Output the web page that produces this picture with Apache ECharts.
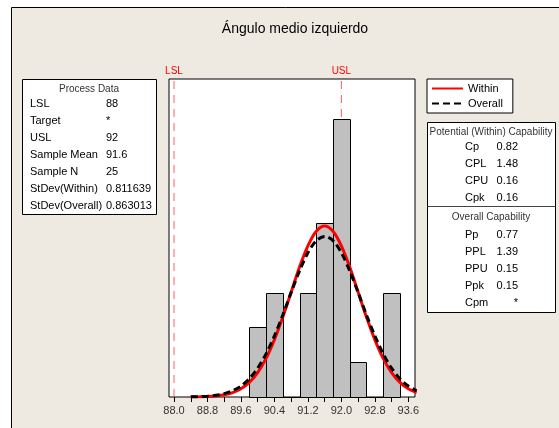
<!DOCTYPE html>
<html><head><meta charset="utf-8">
<script src="https://cdn.jsdelivr.net/npm/echarts@6/dist/echarts.min.js"></script>
<style>html,body{margin:0;padding:0;background:#fff}#c{width:559px;height:428px}</style>
</head><body><div id="c"></div>
<script>
const chartTitle = 'Ángulo medio izquierdo';
const binStarts = [89.8, 90.2, 90.6, 91.0, 91.4, 91.8, 92.2, 92.6, 93.0];
const binWidth = 0.4;
const counts = [2, 3, 0, 3, 5, 8, 1, 0, 3];
const curveX = [88.4, 88.6, 88.8, 89.0, 89.2, 89.4, 89.6, 89.8, 90.0, 90.2, 90.4, 90.6, 90.8, 91.0, 91.2, 91.4, 91.6, 91.8, 92.0, 92.2, 92.4, 92.6, 92.8, 93.0, 93.2, 93.4, 93.6, 93.8];
const withinCurve = [0.002, 0.005, 0.013, 0.029, 0.062, 0.125, 0.236, 0.42, 0.70, 1.11, 1.65, 2.30, 3.02, 3.74, 4.35, 4.77, 4.92, 4.77, 4.35, 3.74, 3.02, 2.30, 1.65, 1.11, 0.70, 0.42, 0.236, 0.125];
const overallCurve = [0.005, 0.011, 0.024, 0.049, 0.097, 0.179, 0.315, 0.525, 0.83, 1.24, 1.76, 2.36, 3.01, 3.63, 4.15, 4.50, 4.62, 4.50, 4.15, 3.63, 3.01, 2.36, 1.76, 1.24, 0.83, 0.525, 0.315, 0.179];
const specNames = ['LSL', 'USL'];
const specValues = [88, 92];
const tickLabelValues = [88.0, 88.8, 89.6, 90.4, 91.2, 92.0, 92.8, 93.6];
const tickMarkValues = [88.0, 88.4, 88.8, 89.2, 89.6, 90.0, 90.4, 90.8, 91.2, 91.6, 92.0, 92.4, 92.8, 93.2, 93.6];
const processLabels = ['LSL', 'Target', 'USL', 'Sample Mean', 'Sample N', 'StDev(Within)', 'StDev(Overall)'];
const processValues = ['88', '*', '92', '91.6', '25', '0.811639', '0.863013'];
const withinLabels = ['Cp', 'CPL', 'CPU', 'Cpk'];
const withinValues = ['0.82', '1.48', '0.16', '0.16'];
const overallLabels = ['Pp', 'PPL', 'PPU', 'Ppk', 'Cpm'];
const overallValues = ['0.77', '1.39', '0.15', '0.15', '*'];

const FF = '"Liberation Sans", Arial, sans-serif';
const Y_MAX = 9.15;
const chart = echarts.init(document.getElementById('c'));

const G = [];
G.push({type:'rect', shape:{x:11.5, y:7.5, width:600, height:500}, style:{fill:'#EEEAE1', stroke:'#000', lineWidth:1}, z:-10});
G.push({type:'rect', shape:{x:22.5, y:79.5, width:134, height:135}, style:{fill:'#fff', stroke:'#000', lineWidth:1}, z:1});
G.push({type:'text', x:89, y:89, style:{text:'Process Data', font:'10px '+FF, fill:'#333', align:'center', verticalAlign:'middle'}, z:2});
processLabels.forEach((l,i)=>{
  G.push({type:'text', x:30, y:104+i*17, style:{text:l, font:'11px '+FF, fill:'#000', verticalAlign:'middle'}, z:2});
  G.push({type:'text', x:106, y:104+i*17, style:{text:processValues[i], font:'11px '+FF, fill:'#000', verticalAlign:'middle'}, z:2});
});
G.push({type:'rect', shape:{x:427.5, y:122.5, width:128, height:190}, style:{fill:'#fff', stroke:'#000', lineWidth:1}, z:1});
G.push({type:'line', shape:{x1:427.5, y1:206.5, x2:555.5, y2:206.5}, style:{stroke:'#444', lineWidth:1}, z:2});
G.push({type:'text', x:491, y:132, style:{text:'Potential (Within) Capability', font:'10px '+FF, fill:'#333', align:'center', verticalAlign:'middle'}, z:2});
withinLabels.forEach((l,i)=>{
  G.push({type:'text', x:465, y:147+i*17, style:{text:l, font:'11px '+FF, fill:'#000', verticalAlign:'middle'}, z:2});
  G.push({type:'text', x:518, y:147+i*17, style:{text:withinValues[i], font:'11px '+FF, fill:'#000', align:'right', verticalAlign:'middle'}, z:2});
});
G.push({type:'text', x:491, y:217, style:{text:'Overall Capability', font:'10px '+FF, fill:'#333', align:'center', verticalAlign:'middle'}, z:2});
overallLabels.forEach((l,i)=>{
  G.push({type:'text', x:465, y:235+i*17, style:{text:l, font:'11px '+FF, fill:'#000', verticalAlign:'middle'}, z:2});
  G.push({type:'text', x:518, y:235+i*17, style:{text:overallValues[i], font:'11px '+FF, fill:'#000', align:'right', verticalAlign:'middle'}, z:2});
});

const specSeries = specValues.map((v,i)=>({
  type:'line', name:specNames[i], silent:true, z:1, clip:false,
  symbol:'circle', symbolSize:0, showSymbol:true,
  data:[[v,0], {value:[v,Y_MAX], label:{show:true, position:'top', distance:3, formatter:specNames[i], color:'#FF0000', fontSize:10, fontFamily:FF}}],
  lineStyle:{color:'#FF4040', width:1, type:[8,6], opacity:0.85},
  itemStyle:{color:'#FF4040'}
}));

chart.setOption({
  backgroundColor:'#fff',
  animation:false,
  title:{text:chartTitle, left:290, top:17, textAlign:'center', textStyle:{fontFamily:FF, fontSize:14, fontWeight:'normal', color:'#000'}},
  grid:{left:169, top:79, width:246, height:318, show:true, backgroundColor:'#fff', borderColor:'#000', borderWidth:1, containLabel:false},
  legend:{orient:'vertical', left:427, top:79, data:['Within','Overall'], itemWidth:31, itemHeight:12, itemGap:4,
    padding:[4,10,4,4], borderColor:'#000', borderWidth:1, backgroundColor:'#fff',
    itemStyle:{opacity:0},
    textStyle:{fontFamily:FF, fontSize:11, color:'#000'}},
  xAxis:{type:'value', min:87.88, max:93.76,
    axisLine:{show:false}, splitLine:{show:false},
    axisTick:{show:true, length:5, customValues:tickMarkValues, lineStyle:{color:'#000'}},
    axisLabel:{customValues:tickLabelValues, formatter:v=>v.toFixed(1), fontFamily:FF, fontSize:11, color:'#333', margin:8}},
  yAxis:{type:'value', min:0, max:Y_MAX, show:false},
  graphic:G,
  series:[
    ...specSeries,
    {type:'custom', name:'bars', z:2, data:binStarts.map((s,i)=>[s, s+binWidth, counts[i]]),
      renderItem:(params, api)=>{
        const p0 = api.coord([api.value(0), 0]);
        const p1 = api.coord([api.value(1), api.value(2)]);
        return {type:'rect', shape:{x:Math.round(p0[0])+0.5, y:Math.round(p1[1])+0.5, width:Math.round(p1[0])-Math.round(p0[0]), height:Math.round(p0[1])-Math.round(p1[1])},
          style:{fill:'#C0C0C0', stroke:'#000', lineWidth:1}};
      }},
    {type:'line', name:'Within', z:3, data:curveX.map((x,i)=>[x, withinCurve[i]]), symbol:'none', smooth:0.3,
      lineStyle:{color:'#FF0000', width:3}, itemStyle:{color:'#FF0000'}},
    {type:'line', name:'Overall', z:4, data:curveX.map((x,i)=>[x, overallCurve[i]]), symbol:'none', smooth:0.3,
      lineStyle:{color:'#000', width:3, type:[7,4]}, itemStyle:{color:'#000'}}
  ]
});
</script></body></html>
